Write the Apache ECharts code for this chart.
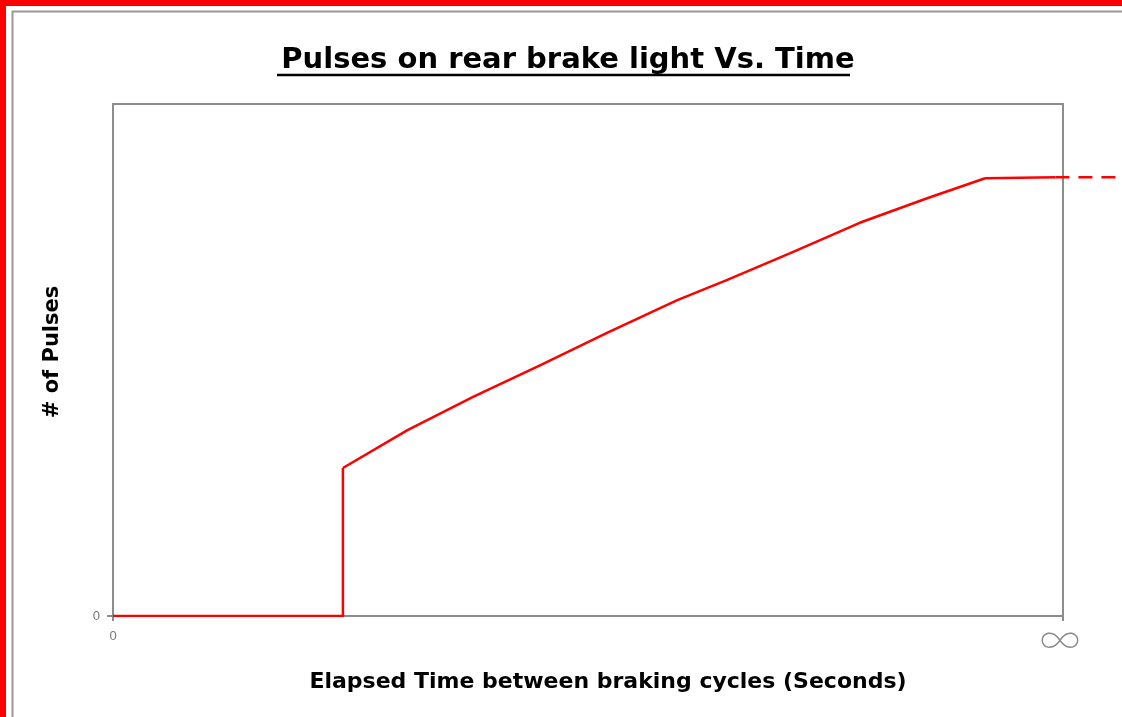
<!DOCTYPE html>
<html>
<head>
<meta charset="utf-8">
<script src="https://cdn.jsdelivr.net/npm/echarts@6/dist/echarts.min.js"></script>
<style>
html,body{margin:0;padding:0;background:#fff;}
#chart{width:1122px;height:717px;}
</style>
</head>
<body>
<div id="chart"></div>
<script>
// Data (x: elapsed time on a 0..100 relative scale, 100 = infinity; y: relative # of pulses)
const titleText = 'Pulses on rear brake light Vs. Time';
const xAxisName = 'Elapsed Time between braking cycles (Seconds)';
const yAxisName = '# of Pulses';
const xTickValues = [0, 100];
const xTickLabels = ['0', '∞'];
const yTickValues = [0];
const yTickLabels = ['0'];
// step segment
const stepX = [0, 24.2, 24.2];
const stepY = [0, 0, 28.9];
// rising curve
const curveX = [24.2, 31.0, 37.9, 45.0, 52.0, 59.4, 64.6, 71.6, 78.6, 85.7, 91.8];
const curveY = [28.9, 36.3, 42.8, 49.0, 55.3, 61.7, 65.6, 71.1, 76.8, 81.6, 85.5];
// plateau
const flatX = [91.8, 99.2];
const flatY = [85.5, 85.7];
// dashed continuation beyond the plot
const tailX = [99.2, 106.2];
const tailY = [85.7, 85.7];

const chart = echarts.init(document.getElementById('chart'));
const FONT = '"DejaVu Sans", sans-serif';
const LFONT = '"Liberation Sans", Arial, sans-serif';

// grid geometry: main plot 113..1063 (x), 104..616 (y); second (overflow) grid extends to the page edge
const G = { left: 113, top: 104, right: 59, bottom: 101 };
const tailMax = 100 * (1122 - G.left) / (1122 - G.left - G.right);
const pairs = (xs, ys) => xs.map((x, i) => [x, ys[i]]);
const red = { color: '#ff0000', width: 2.5, join: 'round' };

chart.setOption({
  backgroundColor: '#ffffff',
  animation: false,
  title: {
    text: titleText,
    left: 563,
    top: 41,
    textAlign: 'center',
    textStyle: { fontFamily: FONT, fontSize: 29, fontWeight: 'bold', color: '#000' }
  },
  graphic: [
    { type: 'rect', shape: { x: 0, y: 0, width: 1122, height: 6 }, style: { fill: '#ff0000' }, silent: true },
    { type: 'rect', shape: { x: 0, y: 0, width: 6, height: 717 }, style: { fill: '#ff0000' }, silent: true },
    { type: 'line', shape: { x1: 12, y1: 11.5, x2: 1122, y2: 11.5 }, style: { stroke: '#999', lineWidth: 2 }, silent: true },
    { type: 'line', shape: { x1: 12.5, y1: 11, x2: 12.5, y2: 717 }, style: { stroke: '#999', lineWidth: 2 }, silent: true },
    { type: 'line', shape: { x1: 277, y1: 75, x2: 850, y2: 75 }, style: { stroke: '#000', lineWidth: 2.5 }, silent: true }
  ],
  grid: [
    { left: G.left, top: G.top, right: G.right, bottom: G.bottom,
      show: true, borderColor: '#8c8c8c', borderWidth: 2, backgroundColor: '#fff' },
    { left: G.left, top: G.top, right: 0, bottom: G.bottom, show: false }
  ],
  xAxis: [{
    type: 'value', min: 0, max: 100, gridIndex: 0,
    name: xAxisName, nameLocation: 'middle', nameGap: 55,
    nameTextStyle: { fontFamily: FONT, fontSize: 22, fontWeight: 'bold', color: '#000', padding: [0, 0, 0, 40] },
    axisLine: { show: true, lineStyle: { color: '#8c8c8c', width: 2 } },
    axisTick: { show: true, customValues: xTickValues, length: 5, lineStyle: { color: '#8c8c8c', width: 2 } },
    axisLabel: {
      customValues: xTickValues,
      margin: 14,
      formatter: v => {
        const i = xTickValues.indexOf(v);
        return i === 1 ? '{inf|' + xTickLabels[i] + '}' : xTickLabels[i];
      },
      fontFamily: LFONT, fontSize: 13, color: '#777',
      rich: { inf: { fontFamily: '"Noto Sans CJK JP"', fontSize: 40, color: '#8a8a8a', fontWeight: 'lighter', lineHeight: 20, padding: [0, 6, 0, 0] } }
    },
    splitLine: { show: false }
  }, {
    type: 'value', min: 0, max: tailMax, gridIndex: 1, show: false
  }],
  yAxis: [{
    type: 'value', min: 0, max: 100, gridIndex: 0,
    name: yAxisName, nameLocation: 'middle', nameGap: 50,
    nameTextStyle: { fontFamily: FONT, fontSize: 21, fontWeight: 'bold', color: '#000', padding: [0, 0, 0, 16] },
    axisLine: { show: true, lineStyle: { color: '#8c8c8c', width: 2 } },
    axisTick: { show: true, customValues: yTickValues, length: 6, lineStyle: { color: '#8c8c8c', width: 2 } },
    axisLabel: {
      customValues: yTickValues,
      margin: 13,
      formatter: v => yTickLabels[yTickValues.indexOf(v)],
      fontFamily: LFONT, fontSize: 13, color: '#777'
    },
    splitLine: { show: false }
  }, {
    type: 'value', min: 0, max: 100, gridIndex: 1, show: false
  }],
  series: [
    { type: 'line', xAxisIndex: 0, yAxisIndex: 0, data: pairs(stepX, stepY),
      symbol: 'none', lineStyle: red, z: 3 },
    { type: 'line', xAxisIndex: 0, yAxisIndex: 0, data: pairs(curveX, curveY),
      symbol: 'none', lineStyle: red, z: 3 },
    { type: 'line', xAxisIndex: 0, yAxisIndex: 0, data: pairs(flatX, flatY),
      symbol: 'none', lineStyle: red, z: 3 },
    { type: 'line', xAxisIndex: 1, yAxisIndex: 1, data: pairs(tailX, tailY),
      symbol: 'none', lineStyle: Object.assign({}, red, { type: [14, 9] }), z: 3 }
  ]
});
</script>
</body>
</html>
